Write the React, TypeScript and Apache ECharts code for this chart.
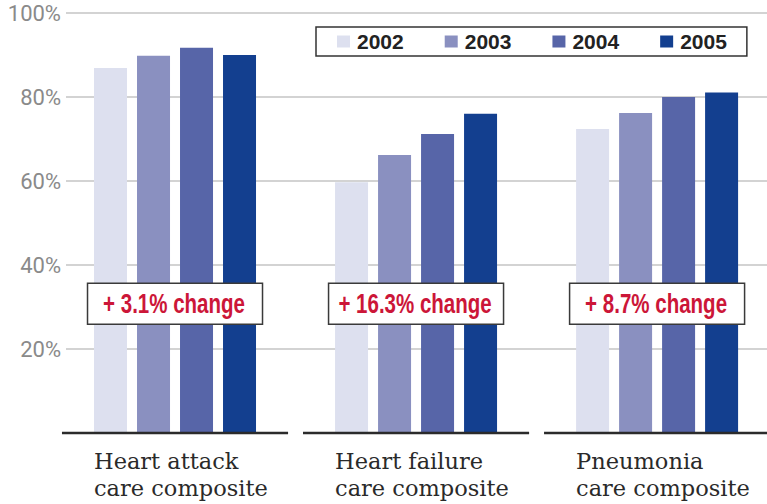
import React, { useEffect, useRef } from "react";
import * as echarts from "echarts";

const categories = [
  "Heart attack\ncare composite",
  "Heart failure\ncare composite",
  "Pneumonia\ncare composite",
];
const years = ["2002", "2003", "2004", "2005"];
const values2002 = [86.9, 59.7, 72.4];
const values2003 = [89.8, 66.2, 76.2];
const values2004 = [91.7, 71.2, 80.0];
const values2005 = [90.0, 76.0, 81.1];
const seriesValues = [values2002, values2003, values2004, values2005];
const changeLabels = ["+ 3.1% change", "+ 16.3% change", "+ 8.7% change"];
const yMin = 0;
const yMax = 100;
const yInterval = 20;

const colors = ["#dde0ef", "#8a90c0", "#5765a8", "#133f8f"];

export default function App() {
  const ref = useRef<HTMLDivElement>(null);
  useEffect(() => {
    if (!ref.current) return;
    const chart = echarts.init(ref.current, undefined, { renderer: "svg" });
    const top = 13;
    const height = 420;
    const barWidth = 33;
    const barGapPx = 10;
    const halfGroup = (years.length * barWidth + (years.length - 1) * barGapPx) / 2;
    const catIdx = categories.map((_, i) => [i, 0]);
    const option: any = {
      animation: false,
      backgroundColor: "#ffffff",
      legend: {
        data: years,
        left: 316,
        top: 27,
        width: 440,
        icon: "rect",
        itemWidth: 13,
        itemHeight: 12,
        itemGap: 41,
        borderColor: "#333333",
        borderWidth: 1.5,
        padding: [4, 20, 4, 21],
        textStyle: {
          fontFamily: "'Liberation Sans', Arial, sans-serif",
          fontWeight: "bold",
          fontSize: 21,
          color: "#222222",
          padding: [0, 0, 0, 2],
        },
      },
      grid: [
        { left: 66, right: 0, top, height },
        { left: 54.5, right: 0, top, height },
      ],
      xAxis: [
        { type: "value", gridIndex: 0, show: false, min: 0, max: 1 },
        {
          type: "value",
          gridIndex: 1,
          min: -0.5,
          max: 2.456,
          show: false,
          splitLine: { show: false },
        },
      ],
      yAxis: [
        {
          type: "value",
          gridIndex: 0,
          min: yMin,
          max: yMax,
          interval: yInterval,
          axisLine: { show: false },
          axisTick: { show: false },
          splitLine: {
            show: true,
            showMinLine: false,
            lineStyle: { color: "#c4c4c4", width: 1.5 },
          },
          axisLabel: {
            margin: 5,
            fontFamily: "Roboto, sans-serif",
            fontSize: 22,
            color: "#8a8a8a",
            verticalAlign: "middle",
            padding: [11, 0, 0, 0],
            formatter: (v: number) => (v === 0 ? "" : v + "%"),
          },
        },
        { type: "value", gridIndex: 1, min: yMin, max: yMax, show: false },
      ],
      series: [
        ...years.map((y, i) => ({
          name: y,
          type: "bar",
          xAxisIndex: 1,
          yAxisIndex: 1,
          barWidth,
          barGap: (barGapPx / barWidth) * 100 + "%",
          itemStyle: { color: colors[i] },
          data: seriesValues[i].map((v, c) => [c, v]),
          z: 2,
        })),
        {
          type: "custom",
          name: "baseline",
          xAxisIndex: 1,
          yAxisIndex: 1,
          z: 5,
          clip: false,
          silent: true,
          data: catIdx,
          renderItem: (params: any, api: any) => {
            const p = api.coord([api.value(0), 0]);
            const w = api.size([1, 0])[0] * 0.938;
            return {
              type: "group",
              children: [
                {
                  type: "line",
                  shape: { x1: p[0] - w / 2, y1: p[1], x2: p[0] + w / 2, y2: p[1] },
                  style: { stroke: "#2b2b2b", lineWidth: 2.5 },
                },
                {
                  type: "text",
                  x: p[0] - halfGroup,
                  y: p[1] + 14,
                  style: {
                    text: categories[params.dataIndex],
                    x: 0,
                    y: 0,
                    align: "left",
                    verticalAlign: "top",
                    fontFamily: "'DejaVu Serif', serif",
                    fontSize: 22.5,
                    lineHeight: 27,
                    fill: "#2a2a2a",
                  },
                },
              ],
            };
          },
        },
        {
          type: "custom",
          name: "change",
          xAxisIndex: 1,
          yAxisIndex: 1,
          z: 10,
          silent: true,
          data: catIdx,
          renderItem: (params: any, api: any) => {
            const p = api.coord([api.value(0), 30.8]);
            const bw = 175;
            const bh = 41;
            return {
              type: "group",
              children: [
                {
                  type: "rect",
                  shape: { x: p[0] - bw / 2, y: p[1] - bh / 2, width: bw, height: bh },
                  style: { fill: "#ffffff", stroke: "#3a3a3a", lineWidth: 1.5 },
                },
                {
                  type: "text",
                  x: p[0] - 1,
                  y: p[1],
                  scaleX: 0.76,
                  style: {
                    text: changeLabels[params.dataIndex],
                    x: 0,
                    y: 0,
                    align: "center",
                    verticalAlign: "middle",
                    fontFamily: "'Liberation Sans', Arial, sans-serif",
                    fontWeight: "bold",
                    fontSize: 27,
                    fill: "#cc1638",
                  },
                },
              ],
            };
          },
        },
      ],
    };
    chart.setOption(option);
    return () => chart.dispose();
  }, []);
  return (
    <div
      ref={ref}
      style={{ position: "fixed", left: 0, top: 0, width: 767, height: 504 }}
    />
  );
}
